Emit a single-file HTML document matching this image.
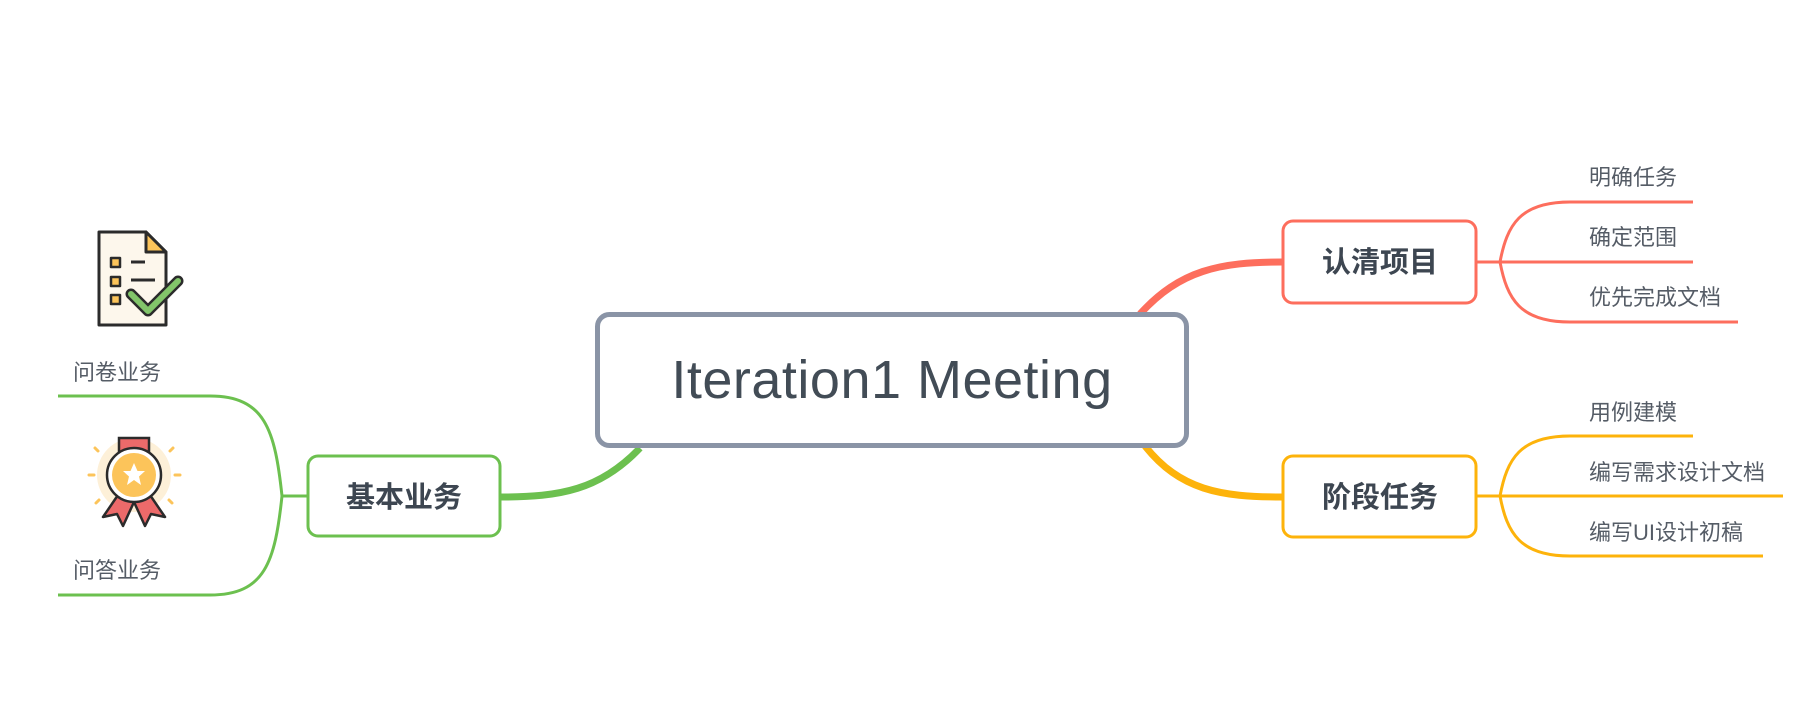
<!DOCTYPE html>
<html><head><meta charset="utf-8"><style>
html,body{margin:0;padding:0;background:#fff;}
body{width:1805px;height:715px;overflow:hidden;position:relative;}
svg{position:absolute;left:0;top:0;}
text{font-family:"Liberation Sans","Noto Sans CJK SC",sans-serif;}
</style></head><body>
<svg width="1805" height="715" viewBox="0 0 1805 715">
<path d="M640 448 C600 490 560 497 501 497" stroke="#6cc04f" stroke-width="7" fill="none"/>
<path d="M1140 314 C1180 270 1220 262 1282 262" stroke="#fd6e5d" stroke-width="7" fill="none"/>
<path d="M1145 446 C1180 490 1220 497 1282 497" stroke="#fdb30b" stroke-width="7" fill="none"/>
<rect x="597.5" y="314.5" width="589" height="131" rx="12" fill="#fff" stroke="#8a94a6" stroke-width="5"/>
<text x="892" y="398" font-size="54" fill="#424c56" text-anchor="middle" letter-spacing="0.5">Iteration1 Meeting</text>

<rect x="308" y="456" width="192" height="80" rx="10" fill="#fff" stroke="#6cc04f" stroke-width="3"/>
<text x="404" y="507" font-size="29" font-weight="bold" fill="#3d4651" text-anchor="middle">基本业务</text>
<path d="M307 496 L282 496" stroke="#6cc04f" stroke-width="3" fill="none"/>
<path d="M282 496 C275 430 265 396 210 396 L58 396" stroke="#6cc04f" stroke-width="3" fill="none"/>
<path d="M282 496 C275 562 265 595 210 595 L58 595" stroke="#6cc04f" stroke-width="3" fill="none"/>
<text x="73" y="380" font-size="22" fill="#555c66">问卷业务</text>
<text x="73" y="578" font-size="22" fill="#555c66">问答业务</text>

<g stroke="#2b2b2b" stroke-width="3" stroke-linejoin="round">
<path d="M99 232 L146 232 L166 252 L166 325 L99 325 Z" fill="#fdf7ec"/>
<path d="M146 232 L146 252 L166 252 Z" fill="#fcc45a"/>
<rect x="111" y="258" width="9" height="9" fill="#fcc45a" stroke-width="2.5"/>
<rect x="111" y="277" width="9" height="9" fill="#fcc45a" stroke-width="2.5"/>
<rect x="111" y="295" width="9" height="9" fill="#fcc45a" stroke-width="2.5"/>
<path d="M131 262 H145 M131 280 H155"/>
</g>
<path d="M131 294 L148 311 L178 281" stroke="#2b2b2b" stroke-width="11" fill="none" stroke-linecap="round" stroke-linejoin="round"/>
<path d="M131 294 L148 311 L178 281" stroke="#82c56a" stroke-width="6" fill="none" stroke-linecap="round" stroke-linejoin="round"/>

<circle cx="134" cy="475" r="37" fill="#fdf0d8"/>
<g stroke="#fcc45a" stroke-width="3" stroke-linecap="round">
<line x1="94" y1="475" x2="89" y2="475"/><line x1="175" y1="475" x2="180" y2="475"/>
<line x1="95" y1="448" x2="98" y2="451"/><line x1="173" y1="448" x2="170" y2="451"/>
<line x1="96" y1="503" x2="99" y2="500"/><line x1="172" y1="503" x2="169" y2="500"/>
</g>
<path d="M119 438 H149 V455 H119 Z" fill="#ec6a6a" stroke="#2b2b2b" stroke-width="2.5"/>
<path d="M118 495 L103 517 L117 514 L123 526 L134 502 Z" fill="#ec6a6a" stroke="#2b2b2b" stroke-width="2.5" stroke-linejoin="round"/>
<path d="M150 495 L165 517 L151 514 L145 526 L134 502 Z" fill="#ec6a6a" stroke="#2b2b2b" stroke-width="2.5" stroke-linejoin="round"/>
<circle cx="134" cy="475" r="27" fill="#fff" stroke="#2b2b2b" stroke-width="2.5"/>
<circle cx="134" cy="475" r="22" fill="#fcc45a"/>
<path d="M134 463 L137.5 471 L145 471 L139 476.5 L141 485 L134 480 L127 485 L129 476.5 L123 471 L130.5 471 Z" fill="#fff"/>

<rect x="1283" y="221" width="193" height="82" rx="10" fill="#fff" stroke="#fd6e5d" stroke-width="3"/>
<text x="1380" y="272" font-size="29" font-weight="bold" fill="#3d4651" text-anchor="middle">认清项目</text>
<path d="M1477 262 L1693 262" stroke="#fd6e5d" stroke-width="3" fill="none"/>
<path d="M1500 262 C1507 225 1520 202 1570 202 L1693 202" stroke="#fd6e5d" stroke-width="3" fill="none"/>
<path d="M1500 262 C1507 299 1520 322 1570 322 L1738 322" stroke="#fd6e5d" stroke-width="3" fill="none"/>
<text x="1589" y="185" font-size="22" fill="#555c66">明确任务</text>
<text x="1589" y="245" font-size="22" fill="#555c66">确定范围</text>
<text x="1589" y="305" font-size="22" fill="#555c66">优先完成文档</text>

<rect x="1283" y="456" width="193" height="81" rx="10" fill="#fff" stroke="#fdb30b" stroke-width="3"/>
<text x="1380" y="507" font-size="29" font-weight="bold" fill="#3d4651" text-anchor="middle">阶段任务</text>
<path d="M1477 496 L1783 496" stroke="#fdb30b" stroke-width="3" fill="none"/>
<path d="M1500 496 C1507 459 1520 436 1570 436 L1693 436" stroke="#fdb30b" stroke-width="3" fill="none"/>
<path d="M1500 496 C1507 533 1520 556 1570 556 L1763 556" stroke="#fdb30b" stroke-width="3" fill="none"/>
<text x="1589" y="420" font-size="22" fill="#555c66">用例建模</text>
<text x="1589" y="480" font-size="22" fill="#555c66">编写需求设计文档</text>
<text x="1589" y="540" font-size="22" fill="#555c66">编写UI设计初稿</text>
</svg>
</body></html>
